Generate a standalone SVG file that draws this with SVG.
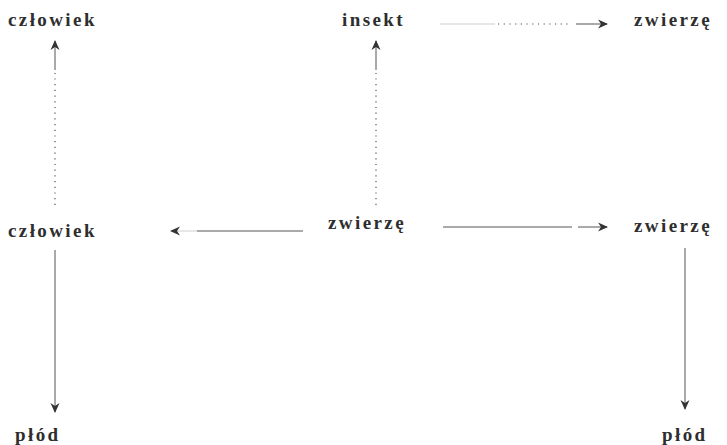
<svg xmlns="http://www.w3.org/2000/svg" width="727" height="445" viewBox="0 0 727 445">
<style>
  .lbl { font-family: "Liberation Serif", "DejaVu Serif", serif; font-size: 19px; font-weight: bold; fill: #2e2e2e; letter-spacing: 2.4px; }
  .ln { stroke: #555; stroke-width: 1; fill: none; }
  .dot { stroke: #555; stroke-width: 1.2; fill: none; stroke-dasharray: 1.2 4.5; }
  .faint { stroke: #cfcfcf; stroke-width: 1; fill: none; }
</style>
<defs>
  <marker id="ah" viewBox="0 0 10 10" refX="9" refY="5" markerWidth="10" markerHeight="10" markerUnits="userSpaceOnUse" orient="auto">
    <path d="M0,0.5 L10,5 L0,9.5 L3,5 Z" fill="#333"/>
  </marker>
</defs>
<rect width="727" height="445" fill="#ffffff"/>
<g id="connectors">
  <!-- człowiek (mid) -> człowiek (top) -->
  <line class="dot" x1="55" y1="205" x2="55" y2="73"/>
  <line class="ln" x1="55" y1="70" x2="55" y2="41" marker-end="url(#ah)"/>
  <!-- zwierzę (mid) -> insekt -->
  <line class="dot" x1="376" y1="205" x2="376" y2="73"/>
  <line class="ln" x1="376" y1="70" x2="376" y2="41" marker-end="url(#ah)"/>
  <!-- insekt -> zwierzę (top) -->
  <line class="faint" x1="440" y1="24" x2="495" y2="24"/>
  <line class="dot" x1="498" y1="24" x2="572" y2="24"/>
  <line class="ln" x1="576" y1="24" x2="607" y2="24" marker-end="url(#ah)"/>
  <!-- zwierzę (mid) -> człowiek (mid) -->
  <line class="ln" x1="303" y1="231" x2="197" y2="231"/>
  <line class="faint" x1="197" y1="231" x2="171" y2="231" marker-end="url(#ah)"/>
  <!-- zwierzę (mid) -> zwierzę (right) -->
  <line class="ln" x1="443" y1="227" x2="572" y2="227"/>
  <line class="ln" x1="578" y1="227" x2="607" y2="227" marker-end="url(#ah)"/>
  <!-- człowiek (mid) -> płód -->
  <line class="ln" x1="55" y1="250" x2="55" y2="412" marker-end="url(#ah)"/>
  <!-- zwierzę (right) -> płód -->
  <line class="ln" x1="685" y1="248" x2="685" y2="409" marker-end="url(#ah)"/>
</g>
<g id="czlowiek-top"><text class="lbl" x="8" y="26">człowiek</text></g>
<g id="insekt"><text class="lbl" x="342" y="26">insekt</text></g>
<g id="zwierze-top"><text class="lbl" x="634" y="26">zwierzę</text></g>
<g id="czlowiek-mid"><text class="lbl" x="8" y="237">człowiek</text></g>
<g id="zwierze-mid"><text class="lbl" x="328" y="229">zwierzę</text></g>
<g id="zwierze-right"><text class="lbl" x="634" y="232">zwierzę</text></g>
<g id="plod-left"><text class="lbl" x="15" y="441">płód</text></g>
<g id="plod-right"><text class="lbl" x="662" y="441">płód</text></g>
</svg>
